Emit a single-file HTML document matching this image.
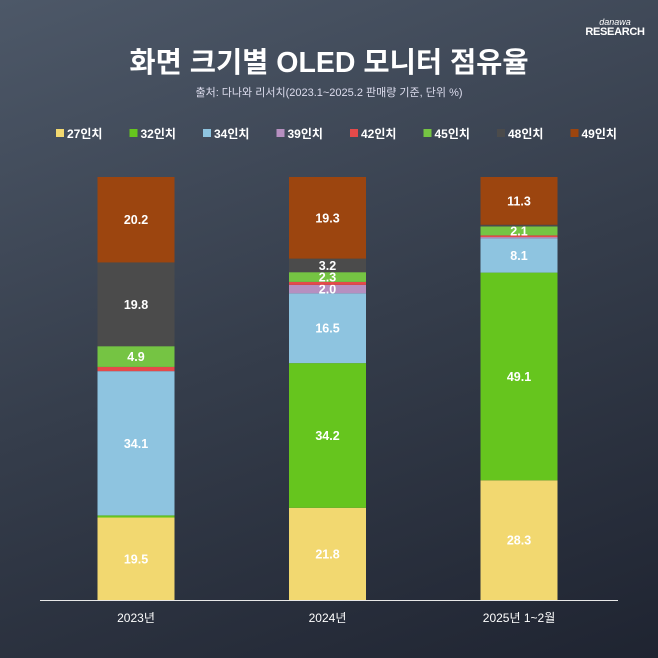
<!DOCTYPE html>
<html><head><meta charset="utf-8"><style>
body{margin:0;width:658px;height:658px;overflow:hidden;background:linear-gradient(160deg,#4d5868 0%,#353d4b 50%,#1f2431 100%);font-family:"Liberation Sans","Noto Sans CJK KR",sans-serif;color:#fff;position:relative}
.t{position:absolute;left:0;width:658px;text-align:center}
</style></head><body>
<div style="position:absolute;left:585px;top:18px;width:60px;text-align:center;line-height:1">
<div style="font-size:9px;font-style:italic">danawa</div><div style="font-size:11px;font-weight:bold;letter-spacing:-0.3px">RESEARCH</div></div>
<div class="t" style="top:40px;font-size:28.5px;font-weight:bold">화면 크기별 OLED 모니터 점유율</div>
<div class="t" style="top:84px;font-size:11px;color:#dde">출처: 다나와 리서치(2023.1~2025.2 판매량 기준, 단위 %)</div>
<svg id="c" width="658" height="658" style="position:absolute;left:0;top:0"></svg>
<script>
const categories=["2023년","2024년","2025년 1~2월"];
const series=["27인치","32인치","34인치","39인치","42인치","45인치","48인치","49인치"];
const colors=["#f2d870","#66c51e","#8ec4e0","#b68fc0","#e44a4a","#75c443","#4b4b4b","#9c450f"];
const v27=[19.5,21.8,28.3];
const v32=[0.5,34.2,49.1];
const v34=[34.1,16.5,8.1];
const v39=[0,2.0,0.3];
const v42=[1.0,0.7,0.4];
const v45=[4.9,2.3,2.1];
const v48=[19.8,3.2,0.4];
const v49=[20.2,19.3,11.3];
const labels=[[ "19.5","","34.1","","","4.9","19.8","20.2"],["21.8","34.2","16.5","2.0","","2.3","3.2","19.3"],["28.3","49.1","8.1","","","2.1","","11.3"]];
const vals=[v27,v32,v34,v39,v42,v45,v48,v49];
const svg=document.getElementById('c');const NS="http://www.w3.org/2000/svg";
const y0=600,ph=423;const y=v=>y0-v/100*ph;
const xc=i=>136+i*191.5;const bw=77;
function mk(t,a){const e=document.createElementNS(NS,t);for(const k in a)e.setAttribute(k,a[k]);svg.appendChild(e);return e;}
series.forEach((s,i)=>{const lx=45+i*73.5;
const r=mk('rect',{x:lx+11,y:129,width:8,height:8,fill:colors[i]});


const t=mk('text',{x:lx+22,y:138,'font-size':12,fill:'#fff','font-weight':'bold'});t.textContent=s;

});
categories.forEach((c,i)=>{let cum=0;
vals.forEach((arr,j)=>{const v=arr[i];if(v<=0)return;
const r=mk('rect',{x:xc(i)-bw/2,y:y(cum+v),width:bw,height:y(cum)-y(cum+v),fill:colors[j]});


const lb=labels[i][j];if(lb){const t=mk('text',{x:xc(i),y:(y(cum)+y(cum+v))/2+4.5,'text-anchor':'middle','font-size':12.5,'font-weight':'bold',fill:'#fff'});t.textContent=lb;

}
cum+=v;});
const t=mk('text',{x:xc(i),y:622,'text-anchor':'middle','font-size':12,fill:'#fff'});t.textContent=c;

});
const ax=mk('line',{x1:40,x2:618,y1:600.5,y2:600.5,stroke:'#e8e8e8','stroke-width':1});


</script>
</body></html>
